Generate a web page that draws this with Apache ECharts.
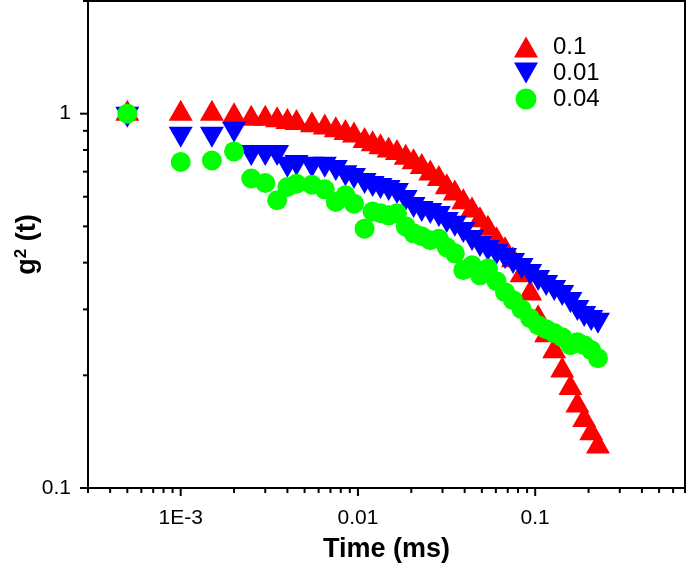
<!DOCTYPE html>
<html>
<head>
<meta charset="utf-8">
<script src="https://cdn.jsdelivr.net/npm/echarts@6/dist/echarts.min.js"></script>
<style>
html,body{margin:0;padding:0;background:#fff;}
#chart{width:687px;height:569px;}
</style>
</head>
<body>
<div id="chart"></div>
<script>
// Delay times (ms)
const times = [0.0005, 0.001, 0.0015, 0.002, 0.0025, 0.003, 0.0035, 0.004, 0.0045, 0.0055,
  0.0065, 0.0075, 0.0085, 0.0095, 0.0109, 0.0121, 0.0134, 0.0149, 0.0166, 0.0186,
  0.0206, 0.0229, 0.0256, 0.0286, 0.0317, 0.0352, 0.0393, 0.0440, 0.0488, 0.0541,
  0.0605, 0.0676, 0.0750, 0.0838, 0.0936, 0.1039, 0.1153, 0.128, 0.142, 0.158,
  0.173, 0.189, 0.207, 0.226];

const g2Red = [1.0, 1.0, 1.0, 0.984, 0.97, 0.97, 0.96, 0.95, 0.944, 0.931,
  0.918, 0.903, 0.888, 0.875, 0.845, 0.829, 0.814, 0.797, 0.785, 0.763,
  0.742, 0.720, 0.692, 0.669, 0.636, 0.612, 0.580, 0.551, 0.519, 0.493,
  0.459, 0.432, 0.406, 0.370, 0.331, 0.284, 0.256, 0.232, 0.206, 0.185,
  0.166, 0.152, 0.140, 0.129];

const g2Blue = [1.0, 0.884, 0.884, 0.911, 0.790, 0.790, 0.79, 0.735, 0.743, 0.735,
  0.735, 0.720, 0.698, 0.686, 0.665, 0.653, 0.645, 0.637, 0.625, 0.599,
  0.574, 0.560, 0.553, 0.543, 0.523, 0.511, 0.492, 0.4685, 0.4515, 0.4406,
  0.4299, 0.4195, 0.4067, 0.3944, 0.3802, 0.3664, 0.3553, 0.3445, 0.334, 0.320,
  0.3047, 0.2936, 0.2865, 0.2813];

const g2Green = [1.0, 0.743, 0.750, 0.793, 0.671, 0.653, 0.587, 0.637, 0.650, 0.646,
  0.628, 0.581, 0.605, 0.575, 0.493, 0.548, 0.542, 0.535, 0.542, 0.500,
  0.479, 0.4705, 0.459, 0.4634, 0.4395, 0.4236, 0.382, 0.3936, 0.370, 0.386,
  0.357, 0.3335, 0.3176, 0.3003, 0.2842, 0.2723, 0.2657, 0.2593, 0.2529, 0.2408,
  0.2453, 0.2408, 0.2335, 0.2223];

const seriesNames = ['0.1', '0.01', '0.04'];

// Axis ticks
const xMajorTicks = [0.001, 0.01, 0.1];
const xTickLabels = ['1E-3', '0.01', '0.1'];
const xMinorTicks = [0.0003, 0.0004, 0.0005, 0.0006, 0.0007, 0.0008, 0.0009,
  0.002, 0.003, 0.004, 0.005, 0.006, 0.007, 0.008, 0.009,
  0.02, 0.03, 0.04, 0.05, 0.06, 0.07, 0.08, 0.09,
  0.2, 0.3, 0.4, 0.5, 0.6, 0.7];
const yMajorTicks = [0.1, 1];
const yTickLabels = ['0.1', '1'];
const yMinorTicks = [0.2, 0.3, 0.4, 0.5, 0.6, 0.7, 0.8, 0.9, 2];

const X_MIN = 0.0003, X_MAX = 0.7, Y_MIN = 0.1, Y_MAX = 2;

const FONT = "'Liberation Sans', Arial, Helvetica, sans-serif";

function labelFor(v, ticks, labels) {
  for (let i = 0; i < ticks.length; i++) {
    if (Math.abs(Math.log10(v) - Math.log10(ticks[i])) < 1e-6) return labels[i];
  }
  return '';
}

const tickData = [];
xMajorTicks.forEach(v => tickData.push([v, Y_MIN, 0, 1]));
xMinorTicks.forEach(v => tickData.push([v, Y_MIN, 0, 0]));
yMajorTicks.forEach(v => tickData.push([X_MIN, v, 1, 1]));
yMinorTicks.forEach(v => tickData.push([X_MIN, v, 1, 0]));

const pairs = arr => times.map((t, i) => [t, arr[i]]).filter(p => p[1] != null);

const chart = echarts.init(document.getElementById('chart'), null, {renderer: 'canvas'});
chart.setOption({
  animation: false,
  backgroundColor: '#fff',
  grid: {
    left: 88, right: 2, top: 1, bottom: 81,
    outerBoundsMode: 'none', containLabel: false,
    show: true, borderColor: '#000', borderWidth: 2, backgroundColor: 'transparent'
  },
  legend: {
    data: seriesNames,
    orient: 'vertical',
    left: 509, top: 30,
    itemWidth: 24, itemHeight: 21, itemGap: 2,
    textStyle: {fontSize: 24, lineHeight: 24, fontFamily: FONT, color: '#000', padding: [0, 0, 0, 10]}
  },
  xAxis: {
    type: 'log', logBase: 10, min: X_MIN, max: X_MAX,
    name: 'Time (ms)', nameLocation: 'middle', nameGap: 48,
    nameMoveOverlap: false,
    nameTextStyle: {fontSize: 27, fontWeight: 'bold', fontFamily: FONT, color: '#000'},
    axisLine: {show: true, lineStyle: {color: '#000', width: 2}},
    axisTick: {show: false},
    minorTick: {show: false},
    splitLine: {show: false},
    axisLabel: {
      show: true, showMinLabel: false, showMaxLabel: false,
      margin: 20, fontSize: 21, fontFamily: FONT, color: '#000',
      formatter: v => labelFor(v, xMajorTicks, xTickLabels)
    }
  },
  yAxis: {
    type: 'log', logBase: 10, min: Y_MIN, max: Y_MAX,
    name: 'g{sup|2} (t)', nameLocation: 'middle', nameGap: 46,
    nameMoveOverlap: false,
    nameTextStyle: {
      fontSize: 27, fontWeight: 'bold', fontFamily: FONT, color: '#000',
      rich: {sup: {fontSize: 17, fontWeight: 'bold', fontFamily: FONT, color: '#000', padding: [0, 0, 12, 0]}}
    },
    axisLine: {show: true, lineStyle: {color: '#000', width: 2}},
    axisTick: {show: false},
    minorTick: {show: false},
    splitLine: {show: false},
    axisLabel: {
      show: true, showMaxLabel: false,
      margin: 17, fontSize: 21, fontFamily: FONT, color: '#000',
      formatter: v => labelFor(v, yMajorTicks, yTickLabels)
    }
  },
  series: [
    {
      name: seriesNames[0], type: 'scatter', data: pairs(g2Red),
      symbol: 'triangle', symbolSize: [24, 21], symbolOffset: [0, -3.5],
      itemStyle: {color: '#ff0000', opacity: 1}
    },
    {
      name: seriesNames[1], type: 'scatter', data: pairs(g2Blue),
      symbol: 'path://M0,0L24,0L12,21Z', symbolSize: [24, 21], symbolOffset: [0, 3.5],
      itemStyle: {color: '#0000ff', opacity: 1}
    },
    {
      name: seriesNames[2], type: 'scatter', data: pairs(g2Green),
      symbol: 'circle', symbolSize: 20,
      itemStyle: {color: '#00ff00', opacity: 1}
    },
    {
      type: 'custom', silent: true, clip: false, z: 5,
      data: tickData,
      encode: {x: 0, y: 1},
      renderItem: (params, api) => {
        const p = api.coord([api.value(0), api.value(1)]);
        const isY = api.value(2) === 1;
        const len = api.value(3) === 1 ? 8 : 5;
        const shape = isY
          ? {x1: p[0] - len, y1: p[1], x2: p[0], y2: p[1]}
          : {x1: p[0], y1: p[1], x2: p[0], y2: p[1] + len};
        return {type: 'line', shape: shape, style: {stroke: '#000', lineWidth: 2}};
      }
    }
  ]
});
</script>
</body>
</html>
